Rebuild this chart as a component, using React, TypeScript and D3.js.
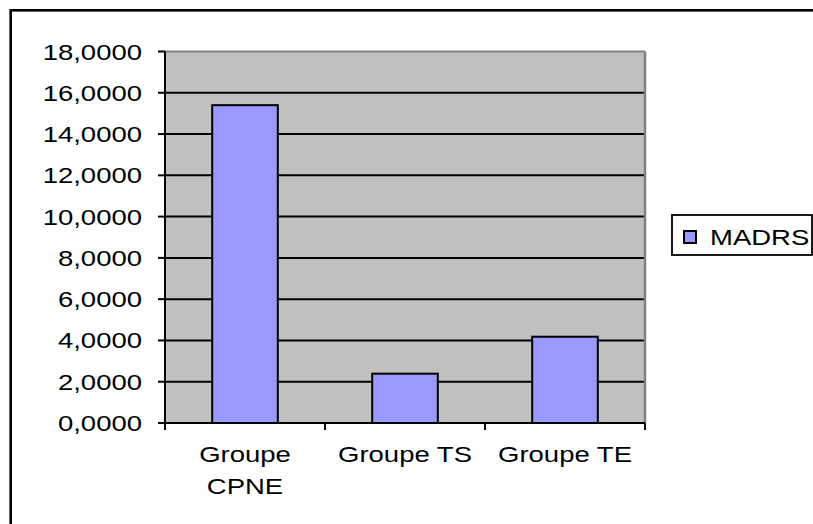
import * as d3 from "d3";

const categories = ["Groupe CPNE", "Groupe TS", "Groupe TE"];
const categoryLines = [["Groupe", "CPNE"], ["Groupe TS"], ["Groupe TE"]];
const madrs = [15.4, 2.39, 4.18];
const yTicks = [0, 2, 4, 6, 8, 10, 12, 14, 16, 18];
const seriesName = "MADRS";

const W = 813, H = 524;
const plot = { left: 165, right: 645, top: 51.5, bottom: 423 };
const font = "'Liberation Sans', Arial, sans-serif";

// Excel stretches its text horizontally, so do we
const Txt = ({ x, y, anchor, children }: any) => (
  <text
    transform={`translate(${x},${y}) scale(1.25,1)`}
    textAnchor={anchor}
    fontFamily={font}
    fontSize={22}
    fill="#000"
  >
    {children}
  </text>
);

const App = () => {
  const x = d3.scaleBand().domain(categories).range([plot.left, plot.right]).padding(0);
  const y = d3.scaleLinear().domain([0, 18]).range([plot.bottom, plot.top]);
  const barW = x.bandwidth() * 0.41;

  return (
    <svg width={W} height={H} style={{ position: "absolute", left: 0, top: 0, background: "#fff" }}>
      {/* outer frame, cut off at right and bottom */}
      <rect x={10.7} y={10.3} width={900} height={700} fill="none" stroke="#000" strokeWidth={2.6} />

      {/* plot area */}
      <rect x={plot.left} y={plot.top} width={plot.right - plot.left} height={plot.bottom - plot.top} fill="#c0c0c0" />
      {yTicks.filter((t) => t > 0 && t < 18).map((t) => (
        <line key={t} x1={plot.left} x2={plot.right} y1={y(t)} y2={y(t)} stroke="#000" strokeWidth={2} />
      ))}
      <line x1={plot.left} x2={plot.right} y1={plot.top} y2={plot.top} stroke="#808080" strokeWidth={2} />
      <line x1={plot.right} x2={plot.right} y1={plot.top} y2={plot.bottom} stroke="#808080" strokeWidth={2.5} />

      {/* bars */}
      {madrs.map((v, i) => {
        const cx = (x(categories[i]) as number) + x.bandwidth() / 2;
        return (
          <rect key={i} x={cx - barW / 2} y={y(v)} width={barW} height={y(0) - y(v)}
            fill="#9999ff" stroke="#000" strokeWidth={2} />
        );
      })}

      {/* y axis */}
      <line x1={plot.left} x2={plot.left} y1={plot.top} y2={plot.bottom} stroke="#000" strokeWidth={2} />
      {yTicks.map((t) => (
        <g key={t}>
          <line x1={plot.left - 7} x2={plot.left} y1={y(t)} y2={y(t)} stroke="#000" strokeWidth={2} />
          <Txt x={142} y={y(t) + 8} anchor="end">{d3.format(".4f")(t).replace(".", ",")}</Txt>
        </g>
      ))}

      {/* x axis */}
      <line x1={plot.left} x2={plot.right} y1={plot.bottom} y2={plot.bottom} stroke="#000" strokeWidth={2} />
      {[...categories.map((c) => x(c) as number), plot.right].map((tx, i) => (
        <line key={i} x1={tx} x2={tx} y1={plot.bottom} y2={plot.bottom + 7} stroke="#000" strokeWidth={2} />
      ))}
      {categories.map((c, i) => {
        const cx = (x(c) as number) + x.bandwidth() / 2;
        return categoryLines[i].map((ln, j) => (
          <Txt key={c + j} x={cx} y={462 + j * 32} anchor="middle">{ln}</Txt>
        ));
      })}

      {/* legend */}
      <rect x={672} y={215} width={140} height={40} fill="#fff" stroke="#000" strokeWidth={1.8} />
      <rect x={684} y={231} width={12} height={12} fill="#9999ff" stroke="#000" strokeWidth={2} />
      <Txt x={710} y={245} anchor="start">{seriesName}</Txt>
    </svg>
  );
};

export default App;
